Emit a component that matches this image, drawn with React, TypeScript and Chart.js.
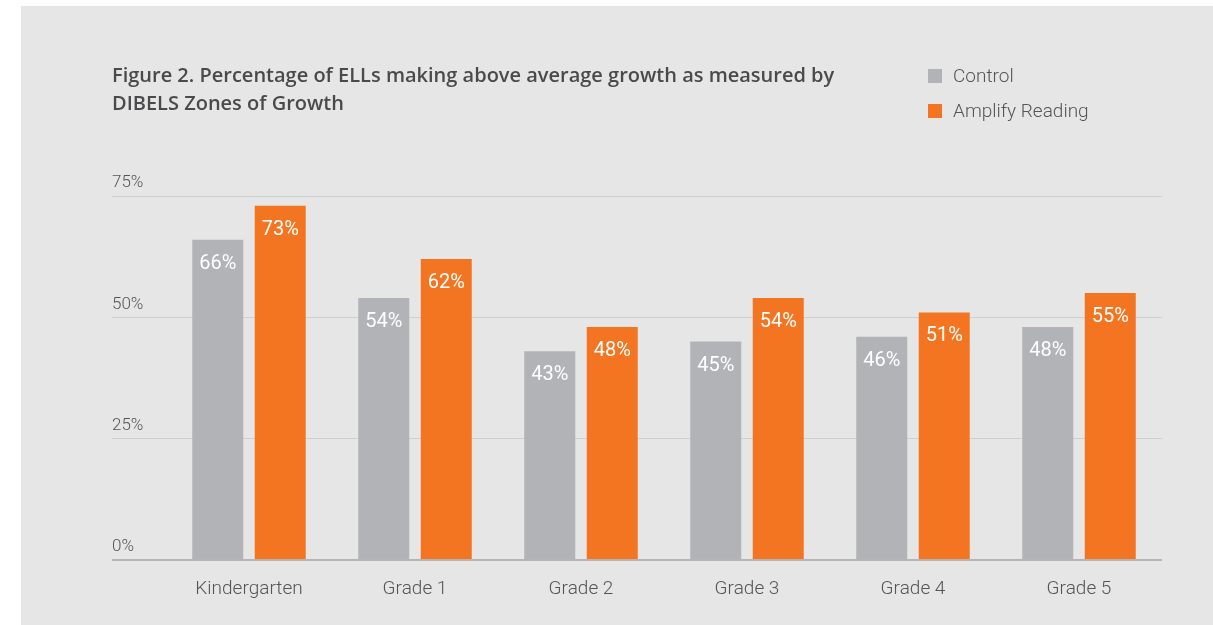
import React, { useEffect, useRef } from "react";
import { Chart, registerables } from "chart.js";

Chart.register(...registerables);

const categories = ["Kindergarten", "Grade 1", "Grade 2", "Grade 3", "Grade 4", "Grade 5"];
const controlValues = [66, 54, 43, 45, 46, 48];
const amplifyValues = [73, 62, 48, 54, 51, 55];
const seriesNames = ["Control", "Amplify Reading"];
const yTicks = [0, 25, 50, 75];
const titleLines = [
  "Figure 2. Percentage of ELLs making above average growth as measured by",
  "DIBELS Zones of Growth",
];

const GRAY = "#b2b3b6";
const ORANGE = "#f47521";
const PANEL = "#e6e6e6";
const TEXT = "#555557";

const panelPlugin = {
  id: "panelBg",
  beforeDraw(chart: any) {
    const ctx = chart.ctx;
    ctx.save();
    ctx.fillStyle = "#ffffff";
    ctx.fillRect(0, 0, chart.width, chart.height);
    ctx.fillStyle = PANEL;
    ctx.fillRect(21, 6, chart.width - 21, chart.height - 6);
    ctx.restore();
  },
};

const valueLabelPlugin = {
  id: "valueLabels",
  afterDatasetsDraw(chart: any) {
    const ctx = chart.ctx;
    ctx.save();
    ctx.fillStyle = "#ffffff";
    ctx.font = "400 20px Roboto";
    ctx.textAlign = "center";
    ctx.textBaseline = "middle";
    chart.data.datasets.forEach((ds: any, i: number) => {
      const meta = chart.getDatasetMeta(i);
      meta.data.forEach((bar: any, j: number) => {
        ctx.fillText(ds.data[j] + "%", bar.x, bar.y + 24);
      });
    });
    ctx.restore();
  },
};

const sideLegendPlugin = {
  id: "sideLegend",
  afterDraw(chart: any) {
    const ctx = chart.ctx;
    ctx.save();
    ctx.font = "300 19px Roboto";
    ctx.textBaseline = "middle";
    ctx.textAlign = "left";
    chart.data.datasets.forEach((ds: any, i: number) => {
      const cy = 76 + i * 35;
      ctx.fillStyle = ds.backgroundColor;
      ctx.fillRect(928, cy - 7, 14, 14);
      ctx.fillStyle = TEXT;
      ctx.fillText(ds.label, 953, cy + 1);
    });
    ctx.restore();
  },
};

export default function App() {
  const ref = useRef<HTMLCanvasElement | null>(null);
  useEffect(() => {
    if (!ref.current) return;
    const chart = new Chart(ref.current, {
      type: "bar",
      data: {
        labels: categories,
        datasets: [
          { label: seriesNames[0], data: controlValues, backgroundColor: GRAY },
          { label: seriesNames[1], data: amplifyValues, backgroundColor: ORANGE },
        ],
      },
      options: {
        responsive: false,
        animation: false,
        devicePixelRatio: 1,
        layout: { padding: { left: 112, right: 51, top: 62, bottom: 20 } },
        datasets: { bar: { categoryPercentage: 0.753, barPercentage: 0.816 } },
        plugins: {
          legend: { display: false },
          tooltip: { enabled: false },
          title: {
            display: true,
            text: titleLines,
            align: "start",
            color: "#4a4a4c",
            font: { family: "Open Sans", size: 20, weight: 600, lineHeight: "28px" },
            padding: { top: 0, bottom: 78 },
          },
        },
        scales: {
          x: {
            grid: { display: false },
            border: { display: false },
            ticks: {
              color: TEXT,
              font: { family: "Roboto", size: 19, weight: 300 },
              padding: 10,
            },
            afterFit(scale: any) {
              scale.height = 45;
            },
          },
          y: {
            min: 0,
            max: 75,
            border: { display: false },
            afterBuildTicks(scale: any) {
              scale.ticks = yTicks.map((v) => ({ value: v }));
            },
            afterFit(scale: any) {
              scale.width = 54;
            },
            grid: {
              color: (c: any) => (c.tick && c.tick.value === 0 ? "#b5b5b7" : "#cfcfd0"),
              lineWidth: (c: any) => (c.tick && c.tick.value === 0 ? 2 : 1),
              tickLength: 54,
              drawTicks: true,
            },
            ticks: {
              color: TEXT,
              font: { family: "Roboto", size: 17, weight: 300 },
              crossAlign: "far",
              labelOffset: -13,
              padding: 0,
              callback: (v: any) => v + "%",
            },
          },
        },
      },
      plugins: [panelPlugin, valueLabelPlugin, sideLegendPlugin],
    } as any);
    return () => chart.destroy();
  }, []);
  return (
    <div style={{ position: "absolute", left: 0, top: 0, width: 1213, height: 625 }}>
      <canvas ref={ref} width={1213} height={625} style={{ display: "block" }} />
    </div>
  );
}
